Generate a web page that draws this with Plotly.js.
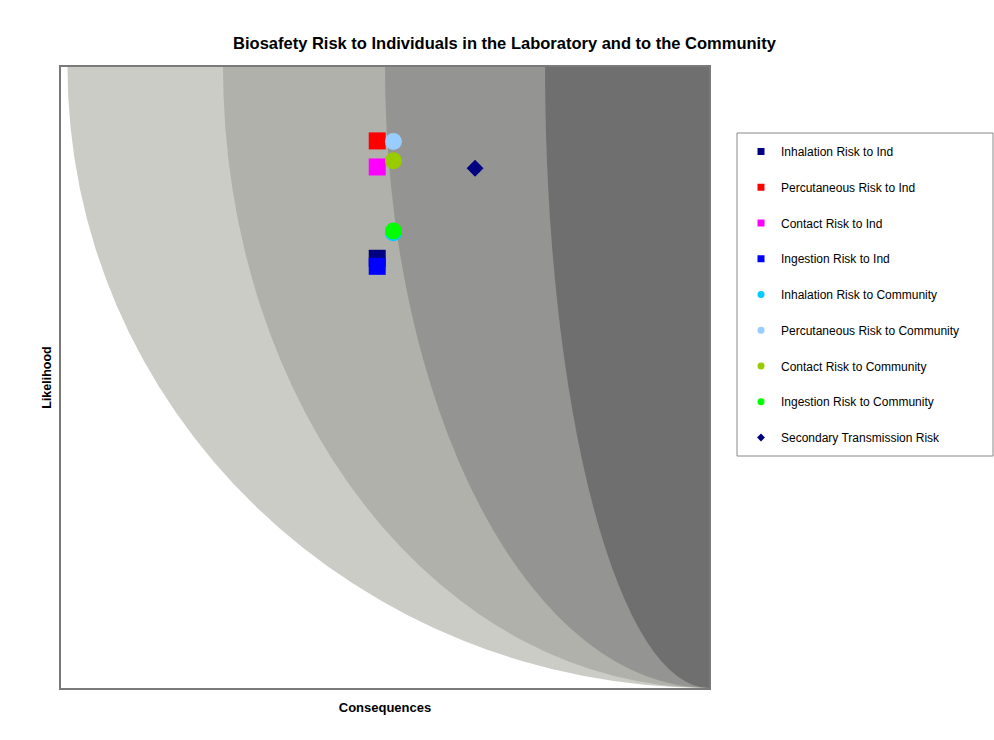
<!DOCTYPE html>
<html>
<head>
<meta charset="utf-8">
<script src="https://cdn.plot.ly/plotly-3.0.1.min.js"></script>
<style>
  html, body { margin: 0; padding: 0; background: #ffffff; }
  #chart { width: 994px; height: 740px; }
</style>
</head>
<body>
<div id="chart"></div>
<script>
// ---- data ----
const seriesNames = [
  "Inhalation Risk to Ind",
  "Percutaneous Risk to Ind",
  "Contact Risk to Ind",
  "Ingestion Risk to Ind",
  "Inhalation Risk to Community",
  "Percutaneous Risk to Community",
  "Contact Risk to Community",
  "Ingestion Risk to Community",
  "Secondary Transmission Risk"
];
const consequences = [48.8, 48.8, 48.8, 48.8, 51.3, 51.3, 51.3, 51.3, 63.9];
const likelihood   = [69.2, 88.1, 83.9, 67.9, 73.3, 88.0, 84.9, 73.6, 83.7];
const seriesColors = ["#000080", "#ff0000", "#ff00ff", "#0000ff", "#00ccff", "#99ccff", "#99cc00", "#00ff00", "#000080"];
const seriesSymbols = ["square", "square", "square", "square", "circle", "circle", "circle", "circle", "diamond"];

// background risk zones (ellipse quadrants meeting at the lower-right corner)
const zoneWidths = [99, 75, 50, 25.3];
const zoneColors = ["#cbccc6", "#b1b1ab", "#949492", "#6f6f6f"];

const traces = [];
seriesNames.forEach((name, i) => {
  traces.push({
    type: "scatter", mode: "markers", name: name,
    x: [consequences[i]], y: [likelihood[i]],
    marker: { color: seriesColors[i], symbol: seriesSymbols[i],
              size: seriesSymbols[i] === "diamond" ? 13 : 17, line: { width: 0 } },
    showlegend: false, hoverinfo: "name"
  });
});
// legend entries (small symbols like the reference)
seriesNames.forEach((name, i) => {
  traces.push({
    type: "scatter", mode: "markers", name: name,
    x: [null], y: [null], legendgroup: "g" + i,
    marker: { color: seriesColors[i], symbol: seriesSymbols[i],
              size: seriesSymbols[i] === "diamond" ? 6 : 7, line: { width: 0 } },
    showlegend: true
  });
});

const shapes = zoneWidths.map((w, i) => ({
  type: "circle", xref: "x", yref: "y", layer: "below",
  x0: 100 - w, x1: 100 + w, y0: 0, y1: 200,
  fillcolor: zoneColors[i], line: { width: 0 }
}));
// legend frame
shapes.push({
  type: "rect", xref: "paper", yref: "paper", layer: "above",
  x0: (737 - 61) / 648, x1: (993 - 61) / 648,
  y0: (688 - 456) / 621, y1: (688 - 133) / 621,
  line: { color: "#888888", width: 1 }, fillcolor: "rgba(0,0,0,0)"
});

const axisBase = {
  range: [0, 100], showgrid: false, zeroline: false, showticklabels: false,
  ticks: "", showline: true, mirror: true, linecolor: "#7a7a7a", linewidth: 2,
  fixedrange: true
};

const layout = {
  width: 994, height: 740,
  margin: { l: 61, r: 285, t: 67, b: 52 },
  paper_bgcolor: "#ffffff", plot_bgcolor: "#ffffff",
  font: { family: "Liberation Sans, Arial, sans-serif", color: "#000000" },
  title: {
    text: "<b>Biosafety Risk to Individuals in the Laboratory and to the Community</b>",
    font: { size: 16.5, color: "#000000" },
    x: 0.5075, xref: "container", xanchor: "center",
    y: 1 - 43 / 740, yref: "container", yanchor: "middle"
  },
  xaxis: Object.assign({}, axisBase, {
    title: { text: "<b>Consequences</b>", font: { size: 13 }, standoff: 14 }
  }),
  yaxis: Object.assign({}, axisBase, {
    title: { text: "<b>Likelihood</b>", font: { size: 12.5 }, standoff: 5 }
  }),
  shapes: shapes,
  showlegend: true,
  legend: {
    x: (741 - 61) / 648, xanchor: "left",
    y: (688 - 137) / 621, yanchor: "top",
    bgcolor: "rgba(0,0,0,0)", borderwidth: 0,
    traceorder: "grouped", tracegroupgap: 16.75,
    font: { size: 12, color: "#000000" },
    itemclick: false, itemdoubleclick: false
  }
};

Plotly.newPlot("chart", traces, layout, { displayModeBar: false, staticPlot: true });
</script>
</body>
</html>
